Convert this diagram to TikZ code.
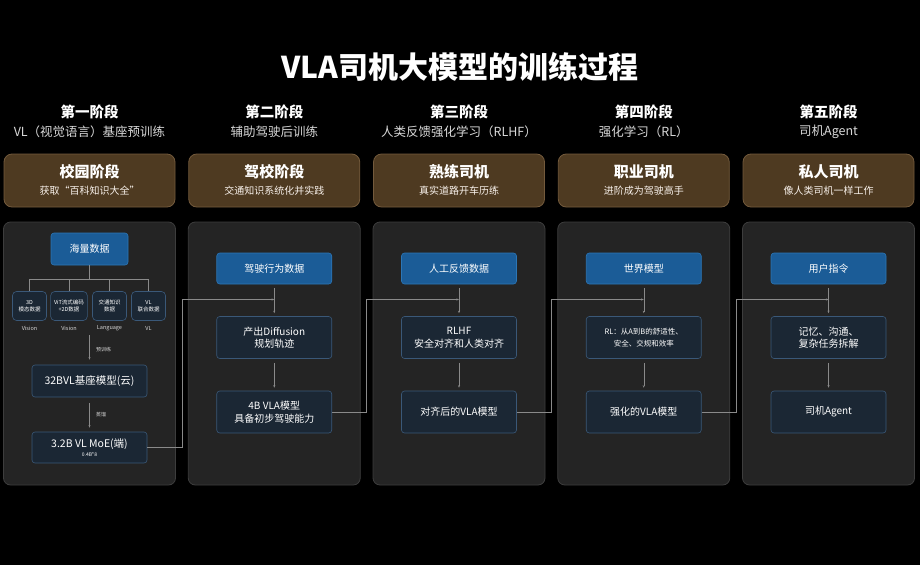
\documentclass[tikz,border=0pt]{standalone}
\usepackage{fontspec}
\setmainfont{Noto Sans CJK SC}
\usetikzlibrary{arrows.meta}
\definecolor{panelfill}{HTML}{242424}
\definecolor{panelline}{HTML}{3D3D3D}
\definecolor{bluefill}{HTML}{1B5C97}
\definecolor{blueline}{HTML}{2C76B6}
\definecolor{navyfill}{HTML}{1B2734}
\definecolor{navyline}{HTML}{3A5878}
\definecolor{brownfill}{HTML}{4E3A21}
\definecolor{brownline}{HTML}{735A3C}
\definecolor{linkgray}{HTML}{8A8A8A}
\definecolor{subgray}{HTML}{D8D8D8}

\begin{document}
\begin{tikzpicture}[x=1pt,y=-1pt,
    panel/.style={fill=panelfill,draw=panelline,line width=0.8pt,rounded corners=7pt},
    stagebox/.style={fill=brownfill,draw=brownline,line width=0.8pt,rounded corners=8pt,minimum width=171pt,minimum height=53pt},
    stagehead/.style={text=white,font=\bfseries\fontsize{14.5pt}{17pt}\selectfont},
    stagesub/.style={text=subgray,font=\fontsize{12.5pt}{15pt}\selectfont},
    stagetitle/.style={text=white,font=\bfseries\fontsize{15pt}{18pt}\selectfont},
    stagedesc/.style={text=white!90!brown,font=\fontsize{10pt}{12pt}\selectfont},
    bluebox/.style={fill=bluefill,draw=blueline,line width=0.6pt,rounded corners=3pt,text=white,
        minimum width=115pt,minimum height=31pt,font=\fontsize{10pt}{12pt}\selectfont},
    darkbox/.style={fill=navyfill,draw=navyline,line width=0.6pt,rounded corners=3pt,text=white,align=center,
        minimum width=115pt,minimum height=42pt,font=\fontsize{10pt}{13pt}\selectfont},
    srcbox/.style={darkbox,minimum width=34pt,minimum height=29pt,rounded corners=4pt,
        font=\fontsize{5.5pt}{7pt}\selectfont},
    tiny/.style={text=subgray,font=\fontsize{5.5pt}{7pt}\selectfont},
    link/.style={draw=linkgray,line width=0.5pt},
    arr/.style={link,-{Stealth[length=2.5pt,width=2pt]}}]
    \fill[black] (0,0) rectangle (920,565);
    \useasboundingbox (0,0) rectangle (920,565);
    \node[text=white,font=\bfseries\fontsize{30pt}{36pt}\selectfont] (title) at (460,67) {VLA司机大模型的训练过程};

    % stage headers and panels
    \foreach \i/\hd/\sub/\ttl/\desc in {1/第一阶段/VL（视觉语言）基座预训练/校园阶段/获取“百科知识大全”,
        2/第二阶段/辅助驾驶后训练/驾校阶段/交通知识系统化并实践,
        3/第三阶段/人类反馈强化学习（RLHF）/熟练司机/真实道路开车历练,
        4/第四阶段/强化学习（RL）/职业司机/进阶成为驾驶高手,
        5/第五阶段/司机Agent/私人司机/像人类司机一样工作} {
        \pgfmathsetmacro\cx{89.5+184.75*(\i-1)}
        \node[stagehead] (head\i) at (\cx,112) {\hd};
        \node[stagesub] (sub\i) at (\cx,132) {\sub};
        \node[stagebox] (stage\i) at (\cx,180.5) {};
        \node[stagetitle] (stagettl\i) at (\cx,172) {\ttl};
        \node[stagedesc] (stagedesc\i) at (\cx,191) {\desc};
        \draw[panel] (\cx-86,222) rectangle (\cx+86,485);
    }

    % column 1
    \node[bluebox,minimum width=77pt,minimum height=32pt] (mass) at (89.5,249) {海量数据};
    \coordinate (fork) at (89.5,279);
    \foreach \j/\x/\txt/\lab in {1/29.5/3D\\模态数据/Vision,2/69/ViT流式编码\\+2D数据/Vision,
        3/109.5/交通知识\\数据/Language,4/148.5/VL\\联合数据/VL} {
        \node[srcbox] (src\j) at (\x,306) {\txt};
        \node[tiny] (srclab\j) at (\x,328) {\lab};
        \draw[link] (src\j.north |- fork) -- (src\j.north);
    }
    \draw[link] (mass.south) -- (fork);
    \draw[link] (src1.north |- fork) -- (src4.north |- fork);
    \node[darkbox,minimum height=32pt,font=\fontsize{10.5pt}{13pt}\selectfont] (base) at (89.5,381) {32BVL基座模型(云)};
    \node[darkbox,minimum height=31pt,font=\fontsize{10.5pt}{10pt}\selectfont] (moe) at (89.5,447.5)
        {3.2B VL MoE(端)\\[-1pt]{\fontsize{5pt}{6pt}\selectfont 0.4B*8}};
    \coordinate (pre) at (89.5,335);
    \draw[arr,shorten >=5pt] (pre) -- (base.north) node[tiny,midway,right=3pt,font=\fontsize{5pt}{6pt}\selectfont] {预训练};
    \draw[arr,shorten <=6pt,shorten >=4pt] (base.south) -- (moe.north) node[tiny,midway,right=3pt,font=\fontsize{5pt}{6pt}\selectfont] {蒸馏};

    % columns 2-5
    \foreach \i/\src/\ps/\proc/\res in {2/驾驶行为数据/10/产出Diffusion\\规划轨迹/4B VLA模型\\具备初步驾驶能力,
        3/人工反馈数据/10/RLHF\\安全对齐和人类对齐/对齐后的VLA模型,
        4/世界模型/7.5/RL：从A到B的舒适性、\\安全、交规和效率/强化的VLA模型,
        5/用户指令/10/记忆、沟通、\\复杂任务拆解/司机Agent} {
        \pgfmathsetmacro\cx{89.5+184.75*(\i-1)}
        \node[bluebox] (data\i) at (\cx,268.5) {\src};
        \node[darkbox,font=\fontsize{\ps pt}{12.5pt}\selectfont] (proc\i) at (\cx,337.5) {\proc};
        \node[darkbox] (res\i) at (\cx,412) {\res};
        \coordinate (join\i) at (\cx,299.5);
        \draw[arr,shorten <=4pt,shorten >=3pt] (data\i) -- (proc\i);
        \draw[arr,shorten <=4pt,shorten >=3pt] (proc\i) -- (res\i);
        \pgfmathsetmacro\gx{\cx-92.5}
        \coordinate (gap\i) at (\gx,299.5);
    }

    % hand-over between stages
    \draw[arr] (moe.east) -| (gap2) -- (join2);
    \draw[arr] (res2.east) -| (gap3) -- (join3);
    \draw[arr] (res3.east) -| (gap4) -- (join4);
    \draw[arr] (res4.east) -| (gap5) -- (join5);
\end{tikzpicture}
\end{document}
